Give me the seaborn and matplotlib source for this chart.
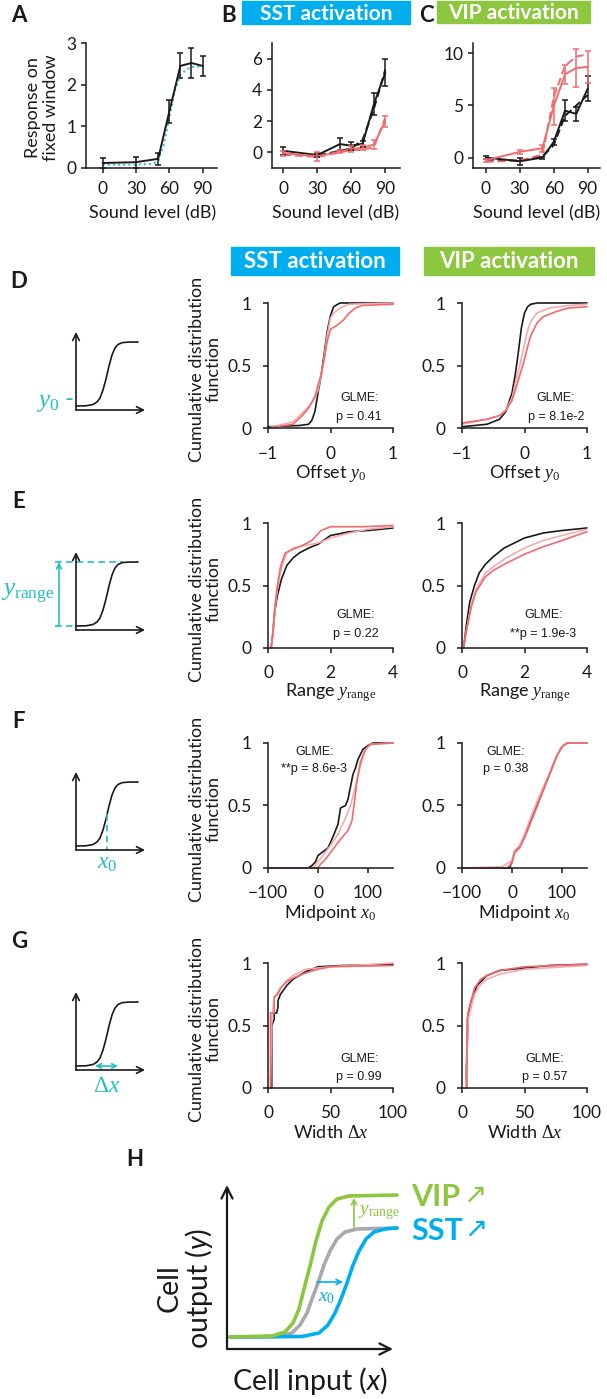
"""
plot.py
-------
SST / VIP activation figure:
    A-C  sound-level response curves
    D-G  CDFs of the sigmoid fit parameters (with schematics)
    H    summary schematic
Saves out.png (607 x 1399 px).
"""

import matplotlib
matplotlib.use("Agg")
import matplotlib.pyplot as plt
from matplotlib.patches import Rectangle
import seaborn as sns

W, H = 607, 1399

BLACK = "#1a1a1a"
PINK = "#EF6B6F"
LIGHT_PINK = "#F5ABAD"
CYAN = "#25BFC2"
SST_BLUE = "#00AEEF"
VIP_GREEN = "#8DC63F"
GREY = "#A7A9AC"

# ---------------- A-C : response vs sound level ----------------
LEVELS = [0, 30, 50, 60, 70, 80, 90]

A_MEAN = [0.12, 0.14, 0.22, 1.35, 2.45, 2.52, 2.45]
A_SEM = [0.12, 0.13, 0.15, 0.28, 0.30, 0.36, 0.25]
A_FIT_X = [0, 30, 45, 50, 55, 60, 65, 70, 75, 80, 90]
A_FIT_Y = [0.08, 0.08, 0.10, 0.16, 0.55, 1.20, 1.85, 2.22, 2.36, 2.42, 2.44]

B_CTRL = [0.10, -0.17, 0.53, 0.43, 0.55, 3.10, 5.10]
B_CTRL_SEM = [0.25, 0.10, 0.40, 0.25, 0.20, 0.70, 0.85]
B_CTRL_DASH = [-0.15, -0.20, 0.10, 0.25, 0.80, 2.80, 5.30]
B_ACT = [-0.05, -0.25, 0.05, 0.20, 0.30, 0.50, 2.00]
B_ACT_SEM = [0.15, 0.30, 0.10, 0.20, 0.15, 0.30, 0.35]
B_ACT_DASH = [-0.15, -0.30, 0.00, 0.15, 0.15, 0.35, 2.20]

C_CTRL = [0.00, -0.35, 0.00, 1.50, 4.50, 4.20, 6.60]
C_CTRL_SEM = [0.15, 0.35, 0.10, 0.30, 1.00, 0.70, 1.20]
C_CTRL_DASH = [-0.20, -0.30, 0.10, 1.20, 4.00, 5.00, 6.00]
C_ACT = [-0.25, 0.55, 0.90, 4.90, 8.00, 8.60, 8.70]
C_ACT_SEM = [0.15, 0.20, 0.35, 1.75, 0.90, 1.80, 1.50]
C_ACT_DASH = [-0.40, -0.30, 0.30, 5.80, 8.80, 9.70, 9.90]

# ---------------- D-G : CDF curves (x, cdf) ----------------
# D offset y0
D_SST_CTRL_X = [-1.0, -0.5, -0.35, -0.3, -0.25, -0.2, -0.15, -0.1, -0.05, 0.0, 0.05, 0.15, 1.0]
D_SST_CTRL_Y = [0.01, 0.02, 0.03, 0.06, 0.13, 0.28, 0.42, 0.60, 0.78, 0.90, 0.97, 1.0, 1.0]
D_SST_LIGHT_X = [-1.0, -0.6, -0.45, -0.3, -0.2, -0.12, -0.05, 0.0, 0.05, 0.15, 0.3, 1.0]
D_SST_LIGHT_Y = [0.0, 0.05, 0.12, 0.20, 0.30, 0.50, 0.75, 0.88, 0.92, 0.96, 0.99, 1.0]
D_SST_LASER_X = [-1.0, -0.6, -0.45, -0.35, -0.25, -0.15, -0.1, -0.05, 0.0, 0.1, 0.2, 0.3, 0.4, 0.5, 1.0]
D_SST_LASER_Y = [0.0, 0.03, 0.10, 0.16, 0.25, 0.43, 0.55, 0.70, 0.79, 0.82, 0.86, 0.92, 0.96, 0.98, 0.99]

D_VIP_CTRL_X = [-1.0, -0.6, -0.4, -0.3, -0.2, -0.15, -0.1, -0.05, 0.0, 0.05, 0.1, 0.2, 1.0]
D_VIP_CTRL_Y = [0.01, 0.03, 0.07, 0.13, 0.28, 0.42, 0.60, 0.80, 0.92, 0.97, 0.99, 1.0, 1.0]
D_VIP_LIGHT_X = [-1.0, -0.6, -0.4, -0.3, -0.2, -0.1, 0.0, 0.05, 0.1, 0.2, 0.4, 0.7, 1.0]
D_VIP_LIGHT_Y = [0.03, 0.07, 0.10, 0.14, 0.24, 0.45, 0.67, 0.78, 0.85, 0.92, 0.96, 0.98, 0.99]
D_VIP_LASER_X = [-1.0, -0.6, -0.4, -0.3, -0.2, -0.1, 0.0, 0.05, 0.1, 0.2, 0.3, 0.5, 0.7, 1.0]
D_VIP_LASER_Y = [0.04, 0.07, 0.10, 0.14, 0.22, 0.38, 0.55, 0.65, 0.74, 0.84, 0.89, 0.93, 0.96, 0.97]

# E range
E_SST_CTRL_X = [0.1, 0.15, 0.22, 0.3, 0.43, 0.6, 0.8, 1.0, 1.3, 1.6, 2.0, 2.6, 3.2, 4.0]
E_SST_CTRL_Y = [0.0, 0.10, 0.30, 0.42, 0.55, 0.66, 0.72, 0.76, 0.80, 0.83, 0.90, 0.93, 0.94, 0.96]
E_SST_LIGHT_X = [0.1, 0.15, 0.22, 0.3, 0.45, 0.6, 0.8, 1.2, 1.6, 2.0, 2.6, 3.2, 4.0]
E_SST_LIGHT_Y = [0.0, 0.10, 0.30, 0.48, 0.66, 0.76, 0.80, 0.82, 0.84, 0.88, 0.92, 0.95, 0.97]
E_SST_LASER_X = [0.1, 0.15, 0.22, 0.3, 0.4, 0.55, 0.8, 1.1, 1.4, 1.7, 2.0, 3.0, 4.0]
E_SST_LASER_Y = [0.0, 0.12, 0.33, 0.50, 0.65, 0.76, 0.79, 0.82, 0.86, 0.94, 0.97, 0.97, 0.98]

E_VIP_CTRL_X = [0.05, 0.15, 0.25, 0.4, 0.55, 0.75, 1.0, 1.35, 2.0, 2.6, 3.2, 4.0]
E_VIP_CTRL_Y = [0.0, 0.20, 0.37, 0.50, 0.60, 0.67, 0.73, 0.80, 0.88, 0.92, 0.94, 0.96]
E_VIP_LIGHT_X = [0.05, 0.15, 0.3, 0.45, 0.75, 1.0, 1.35, 2.0, 2.6, 3.2, 4.0]
E_VIP_LIGHT_Y = [0.0, 0.15, 0.35, 0.47, 0.60, 0.65, 0.71, 0.80, 0.86, 0.90, 0.95]
E_VIP_LASER_X = [0.05, 0.15, 0.3, 0.45, 0.75, 1.0, 1.35, 2.0, 2.6, 3.2, 4.0]
E_VIP_LASER_Y = [0.0, 0.15, 0.33, 0.45, 0.57, 0.62, 0.67, 0.75, 0.81, 0.86, 0.93]

# F midpoint x0
F_SST_CTRL_X = [-100, -20, -12, -5, 0, 10, 20, 30, 40, 45, 55, 60, 65, 70, 75, 80, 90, 100, 110, 150]
F_SST_CTRL_Y = [0.0, 0.0, 0.02, 0.05, 0.10, 0.13, 0.16, 0.25, 0.35, 0.48, 0.50, 0.55, 0.65, 0.75,
                0.80, 0.87, 0.95, 0.98, 1.0, 1.0]
F_SST_LIGHT_X = [-100, -10, 0, 10, 25, 40, 55, 65, 75, 85, 95, 105, 150]
F_SST_LIGHT_Y = [0.0, 0.0, 0.05, 0.10, 0.18, 0.27, 0.40, 0.50, 0.65, 0.82, 0.95, 0.99, 1.0]
F_SST_LASER_X = [-100, 0, 5, 15, 30, 45, 60, 68, 72, 78, 85, 95, 105, 150]
F_SST_LASER_Y = [0.0, 0.0, 0.03, 0.07, 0.15, 0.23, 0.30, 0.38, 0.50, 0.70, 0.85, 0.95, 0.99, 1.0]

F_VIP_CTRL_X = [-100, -5, 0, 5, 15, 25, 35, 50, 65, 80, 90, 100, 110, 150]
F_VIP_CTRL_Y = [0.0, 0.0, 0.05, 0.13, 0.17, 0.25, 0.35, 0.50, 0.65, 0.80, 0.90, 0.97, 1.0, 1.0]
F_VIP_LIGHT_X = [-100, -20, 0, 5, 15, 25, 35, 50, 65, 80, 90, 100, 110, 150]
F_VIP_LIGHT_Y = [0.0, 0.01, 0.06, 0.14, 0.18, 0.27, 0.38, 0.53, 0.67, 0.80, 0.90, 0.97, 1.0, 1.0]
F_VIP_LASER_X = [-100, -10, 0, 5, 15, 25, 35, 50, 65, 80, 90, 100, 110, 150]
F_VIP_LASER_Y = [0.0, 0.0, 0.04, 0.12, 0.16, 0.24, 0.34, 0.49, 0.65, 0.80, 0.90, 0.97, 1.0, 1.0]

# G width
G_SST_CTRL_X = [3, 3, 5, 5, 7, 8, 8, 10, 15, 20, 30, 40, 60, 100]
G_SST_CTRL_Y = [0.0, 0.50, 0.55, 0.60, 0.60, 0.65, 0.70, 0.75, 0.82, 0.87, 0.93, 0.97, 0.98, 0.99]
G_SST_LIGHT_X = [2, 3, 5, 10, 15, 20, 30, 50, 100]
G_SST_LIGHT_Y = [0.0, 0.55, 0.72, 0.80, 0.86, 0.90, 0.95, 0.97, 1.0]
G_SST_LASER_X = [2, 2, 5, 5, 8, 10, 15, 20, 30, 40, 50, 100]
G_SST_LASER_Y = [0.0, 0.60, 0.60, 0.73, 0.75, 0.80, 0.85, 0.88, 0.92, 0.95, 0.97, 0.98]

G_VIP_CTRL_X = [3, 5, 8, 12, 20, 30, 50, 70, 100]
G_VIP_CTRL_Y = [0.0, 0.60, 0.72, 0.82, 0.90, 0.94, 0.96, 0.98, 0.99]
G_VIP_LIGHT_X = [3, 5, 10, 15, 20, 30, 50, 100]
G_VIP_LIGHT_Y = [0.0, 0.55, 0.75, 0.83, 0.87, 0.91, 0.95, 0.98]
G_VIP_LASER_X = [4, 4, 6, 10, 15, 20, 30, 50, 100]
G_VIP_LASER_Y = [0.0, 0.55, 0.65, 0.80, 0.87, 0.90, 0.94, 0.97, 0.99]

P_TEXTS = ["p = 0.41", "p = 8.1e-2", "p = 0.22", "**p = 1.9e-3",
           "**p = 8.6e-3", "p = 0.38", "p = 0.99", "p = 0.57"]

# schematic sigmoid (pixel units inside the small schematic axes)
SIG_X = [0, 10, 17, 21, 24, 27, 30, 33, 36, 39, 42, 46, 52, 62]
SIG_Y = [4, 4.2, 5.5, 8, 12, 20, 31, 44, 55, 62, 65.5, 67.3, 67.9, 68]

# H schematic curves (pixel units)
H_GREEN_X = [3, 45, 58, 66, 72, 77, 83, 89, 95, 102, 110, 122, 170]
H_GREEN_Y = [12, 13, 17, 26, 40, 60, 83, 108, 128, 142, 150, 153, 154]
H_GREY_X = [3, 50, 65, 73, 80, 85, 91, 97, 103, 110, 118, 130, 170]
H_GREY_Y = [12, 12.5, 16, 24, 36, 50, 66, 84, 98, 110, 117, 120, 121]
H_BLUE_X = [3, 75, 92, 101, 108, 114, 120, 126, 132, 139, 147, 158, 170]
H_BLUE_Y = [12, 12.5, 16, 24, 36, 50, 66, 84, 98, 110, 117, 120, 121]

# ------------------------------------------------------------------
sns.set_theme(style="ticks")
plt.rcParams["font.family"] = ["Lato", "DejaVu Sans"]
plt.rcParams["mathtext.fontset"] = "custom"
plt.rcParams["mathtext.rm"] = "Liberation Serif"
plt.rcParams["mathtext.it"] = "Liberation Serif:italic"
plt.rcParams["mathtext.sf"] = "Lato:italic"
plt.rcParams["text.color"] = BLACK
plt.rcParams["axes.labelcolor"] = BLACK
plt.rcParams["xtick.color"] = BLACK
plt.rcParams["ytick.color"] = BLACK

LABEL_SIZE = 13

fig = plt.figure(figsize=(W / 100, H / 100), dpi=100)


def px_axes(x0, y0, x1, y1):
    return fig.add_axes([x0 / W, 1 - y1 / H, (x1 - x0) / W, (y1 - y0) / H])


def ftext(x, y, s, **kw):
    kw.setdefault("ha", "center")
    kw.setdefault("va", "center")
    fig.text(x / W, 1 - y / H, s, **kw)


def line(ax, x, y, **kw):
    sns.lineplot(x=x, y=y, ax=ax, estimator=None, sort=False, legend=False, **kw)


def style(ax, xpad, ypad):
    sns.despine(ax=ax)
    for s in ("left", "bottom"):
        ax.spines[s].set_linewidth(1.1)
        ax.spines[s].set_color(BLACK)
    ax.tick_params(length=3.6, width=1.1, labelsize=12.5)
    ax.tick_params(axis="x", pad=xpad)
    ax.tick_params(axis="y", pad=ypad)
    ax.set_facecolor("none")


def title_box(x0, y0, x1, y1, text, color, size=15):
    fig.patches.append(Rectangle((x0 / W, 1 - y1 / H), (x1 - x0) / W, (y1 - y0) / H,
                                 transform=fig.transFigure, color=color, zorder=0))
    ftext((x0 + x1) / 2, (y0 + y1) / 2 + 1, text, color="white", weight="bold", size=size)


def panel_letter(x, y, s):
    ftext(x, y, s, weight="bold", size=16)


# ---------------- A ----------------
ax = px_axes(86, 43, 217, 168)
line(ax, A_FIT_X, A_FIT_Y, color=CYAN, lw=1.4, linestyle=":")
line(ax, LEVELS, A_MEAN, color=BLACK, lw=1.4)
ax.errorbar(LEVELS, A_MEAN, yerr=A_SEM, fmt="none", ecolor=BLACK, elinewidth=1.1,
            capsize=2.5, capthick=1.1, clip_on=False)
ax.set_xlim(-15, 103)
ax.set_ylim(0, 3)
ax.set_xticks([0, 30, 60, 90])
ax.set_yticks([0, 1, 2, 3])
style(ax, 6, 3.5)
ftext(42, 108, "Response on\nfixed window", rotation=90, size=LABEL_SIZE, linespacing=1.1)
panel_letter(19, 15, "A")

# ---------------- B / C ----------------
for x0, x1, xlim, ylim, yticks, ctrl, csem, cdash, act, asem, adash in [
    (272, 400, (-10, 103), (-1, 7), [0, 2, 4, 6], B_CTRL, B_CTRL_SEM, B_CTRL_DASH,
     B_ACT, B_ACT_SEM, B_ACT_DASH),
    (473, 600, (-11.5, 101), (-1, 11), [0, 5, 10], C_CTRL, C_CTRL_SEM, C_CTRL_DASH,
     C_ACT, C_ACT_SEM, C_ACT_DASH),
]:
    ax = px_axes(x0, 43, x1, 168)
    line(ax, LEVELS, cdash, color=BLACK, lw=1.4, linestyle=(0, (4, 2)))
    line(ax, LEVELS, adash, color=PINK, lw=1.4, linestyle=(0, (4, 2)))
    line(ax, LEVELS, ctrl, color=BLACK, lw=1.4)
    line(ax, LEVELS, act, color=PINK, lw=1.4)
    ax.errorbar(LEVELS, ctrl, yerr=csem, fmt="none", ecolor=BLACK, elinewidth=1.1,
                capsize=2.5, capthick=1.1, clip_on=False)
    ax.errorbar(LEVELS, act, yerr=asem, fmt="none", ecolor=PINK, elinewidth=1.1,
                capsize=2.5, capthick=1.1, clip_on=False)
    ax.set_xlim(*xlim)
    ax.set_ylim(*ylim)
    ax.set_xticks([0, 30, 60, 90])
    ax.set_yticks(yticks)
    style(ax, 6, 3.5)

for cx in (153, 336, 537):
    ftext(cx, 213, "Sound level (dB)", size=LABEL_SIZE)

panel_letter(229, 15, "B")
panel_letter(426, 15, "C")
title_box(242, 1, 410, 24, "SST activation", SST_BLUE)
title_box(437, 1, 590, 23, "VIP activation", VIP_GREEN)

# ---------------- D-G ----------------
title_box(231, 247, 399, 275, "SST activation", SST_BLUE, size=16)
title_box(424, 247, 594, 275, "VIP activation", VIP_GREEN, size=16)

ROW_TOPS = [303, 523, 743, 963]
COL_LEFTS = [268, 462]
SIZE = 125

row_specs = [
    ("D", (-1, 1), [-1, 0, 1], "Offset $y_0$",
     [(D_SST_CTRL_X, D_SST_CTRL_Y, D_SST_LIGHT_X, D_SST_LIGHT_Y, D_SST_LASER_X, D_SST_LASER_Y),
      (D_VIP_CTRL_X, D_VIP_CTRL_Y, D_VIP_LIGHT_X, D_VIP_LIGHT_Y, D_VIP_LASER_X, D_VIP_LASER_Y)],
     [(0.73, 0.24, 0.09), (0.75, 0.24, 0.09)]),
    ("E", (0, 4), [0, 2, 4], "Range $y_{\\rm range}$",
     [(E_SST_CTRL_X, E_SST_CTRL_Y, E_SST_LIGHT_X, E_SST_LIGHT_Y, E_SST_LASER_X, E_SST_LASER_Y),
      (E_VIP_CTRL_X, E_VIP_CTRL_Y, E_VIP_LIGHT_X, E_VIP_LIGHT_Y, E_VIP_LASER_X, E_VIP_LASER_Y)],
     [(0.70, 0.26, 0.11), (0.65, 0.26, 0.11)]),
    ("F", (-100, 150), [-100, 0, 100], "Midpoint $x_0$",
     [(F_SST_CTRL_X, F_SST_CTRL_Y, F_SST_LIGHT_X, F_SST_LIGHT_Y, F_SST_LASER_X, F_SST_LASER_Y),
      (F_VIP_CTRL_X, F_VIP_CTRL_Y, F_VIP_LIGHT_X, F_VIP_LIGHT_Y, F_VIP_LASER_X, F_VIP_LASER_Y)],
     [(0.37, 0.93, 0.79), (0.35, 0.93, 0.79)]),
    ("G", (0, 100), [0, 50, 100], "Width $\\Delta x$",
     [(G_SST_CTRL_X, G_SST_CTRL_Y, G_SST_LIGHT_X, G_SST_LIGHT_Y, G_SST_LASER_X, G_SST_LASER_Y),
      (G_VIP_CTRL_X, G_VIP_CTRL_Y, G_VIP_LIGHT_X, G_VIP_LIGHT_Y, G_VIP_LASER_X, G_VIP_LASER_Y)],
     [(0.73, 0.23, 0.09), (0.66, 0.23, 0.09)]),
]

for r, (letter, xlim, xticks, xlabel, curves, glme) in enumerate(row_specs):
    top = ROW_TOPS[r]
    for c in range(2):
        left = COL_LEFTS[c]
        ax = px_axes(left, top, left + SIZE, top + SIZE)
        cx, cy, lx, ly, px, py = curves[c]
        line(ax, cx, cy, color=BLACK, lw=1.2, clip_on=False)
        line(ax, lx, ly, color=LIGHT_PINK, lw=1.2, clip_on=False)
        line(ax, px, py, color=PINK, lw=1.2, clip_on=False)
        ax.set_xlim(*xlim)
        ax.set_ylim(0, 1)
        ax.set_xticks(xticks)
        ax.set_yticks([0, 0.5, 1])
        ax.set_yticklabels(["0", "0.5", "1"])
        style(ax, 9, 8)
        gx, gy1, gy2 = glme[c]
        ax.text(gx, gy1, "GLME:", transform=ax.transAxes, ha="center", va="center",
                size=9, family="Liberation Sans")
        ax.text(gx, gy2, P_TEXTS[2 * r + c], transform=ax.transAxes, ha="center",
                va="center", size=9, family="Liberation Sans")
        ftext(left + SIZE / 2, top + SIZE + 45, xlabel, size=LABEL_SIZE)
    # only the left column carries the y label
    ftext(COL_LEFTS[0] - 63, top + SIZE / 2 + 4, "Cumulative distribution\nfunction",
          rotation=90, size=LABEL_SIZE, linespacing=1.05)
    panel_letter(19, top - 21, letter)

    # schematic
    base = top + SIZE - 18
    sx = px_axes(76, base - 80, 146, base)
    sx.set_xlim(0, 70)
    sx.set_ylim(0, 80)
    sx.axis("off")
    arrow = dict(arrowstyle="->", lw=1.2, color=BLACK, shrinkA=0, shrinkB=0,
                 mutation_scale=12)
    sx.annotate("", xy=(0, 78), xytext=(0, 0), arrowprops=arrow, annotation_clip=False)
    sx.annotate("", xy=(69, 0), xytext=(0, 0), arrowprops=arrow, annotation_clip=False)
    if letter == "E":
        line(sx, [-21, 47], [68, 68], color=CYAN, lw=1.2, linestyle=(0, (4, 2.5)), clip_on=False)
        line(sx, [-21, 0], [4, 4], color=CYAN, lw=1.2, linestyle=(0, (4, 2.5)), clip_on=False)
        sx.annotate("", xy=(-17, 68), xytext=(-17, 4), annotation_clip=False,
                    arrowprops=dict(arrowstyle="->", lw=1.2, color=CYAN, shrinkA=0,
                                    shrinkB=0, mutation_scale=9))
        sx.text(-22, 36, "$y_{\\rm range}$", color=CYAN, size=18, ha="right", va="center")
    line(sx, SIG_X, SIG_Y, color=BLACK, lw=1.2, clip_on=False)
    if letter == "D":
        sx.text(-1, 7, "$y_0$ -", color=CYAN, size=18, ha="right", va="center")
    elif letter == "F":
        line(sx, [31, 31], [36, 0], color=CYAN, lw=1.2, linestyle=(0, (4, 2.5)), clip_on=False)
        sx.text(31, -14, "$x_0$", color=CYAN, size=17, ha="center", va="center")
    elif letter == "G":
        sx.annotate("", xy=(42, 4), xytext=(19, 4), annotation_clip=False,
                    arrowprops=dict(arrowstyle="<->", lw=1.2, color=CYAN, shrinkA=0,
                                    shrinkB=0, mutation_scale=8))
        sx.text(31, -15, "$\\Delta x$", color=CYAN, size=17, ha="center", va="center")

# ---------------- H ----------------
panel_letter(135, 1159, "H")
hx = px_axes(227, 1180, 400, 1349)
hx.set_xlim(0, 173)
hx.set_ylim(0, 169)
hx.axis("off")
big_arrow = dict(arrowstyle="->", lw=1.6, color=BLACK, shrinkA=0, shrinkB=0,
                 mutation_scale=20)
hx.annotate("", xy=(0, 164), xytext=(0, 0), arrowprops=big_arrow, annotation_clip=False)
hx.annotate("", xy=(166, 0), xytext=(0, 0), arrowprops=big_arrow, annotation_clip=False)
line(hx, H_GREY_X, H_GREY_Y, color=GREY, lw=2.6, clip_on=False)
line(hx, H_BLUE_X, H_BLUE_Y, color=SST_BLUE, lw=2.6, clip_on=False)
line(hx, H_GREEN_X, H_GREEN_Y, color=VIP_GREEN, lw=2.6, clip_on=False)
hx.annotate("", xy=(127, 151), xytext=(127, 121), annotation_clip=False,
            arrowprops=dict(arrowstyle="->", lw=1.2, color=VIP_GREEN, shrinkA=0,
                            shrinkB=0, mutation_scale=9))
hx.text(131, 136, "$y_{\\rm range}$", color=VIP_GREEN, size=14, ha="left", va="center")
hx.annotate("", xy=(116, 67), xytext=(90, 67), annotation_clip=False,
            arrowprops=dict(arrowstyle="->", lw=1.2, color=SST_BLUE, shrinkA=0,
                            shrinkB=0, mutation_scale=9))
hx.text(100, 52, "$x_0$", color=SST_BLUE, size=14, ha="center", va="center")

ftext(310, 1381, "Cell input ($\\mathsf{x}$)", size=20.5)
ftext(186, 1288, "Cell\noutput ($\\mathsf{y}$)", size=20.5, rotation=90, linespacing=1.0)
ftext(411, 1197, "VIP", ha="left", color=VIP_GREEN, weight="bold", size=22)
ftext(463, 1195, "\u2197", ha="left", color=VIP_GREEN, size=20, family="DejaVu Sans")
ftext(411, 1231, "SST", ha="left", color=SST_BLUE, weight="bold", size=22)
ftext(464, 1229, "\u2197", ha="left", color=SST_BLUE, size=20, family="DejaVu Sans")

fig.savefig("out.png", dpi=100)
